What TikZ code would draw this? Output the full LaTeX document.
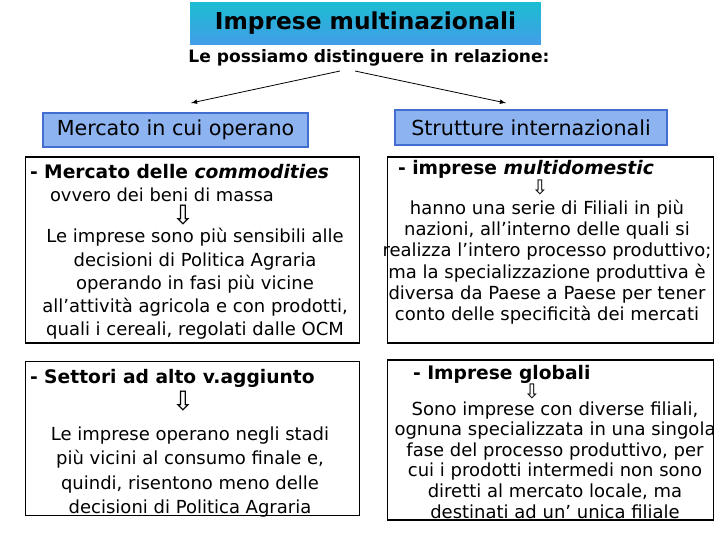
\documentclass[tikz,border=0pt]{standalone}
\usepackage{fontspec}
\setmainfont{DejaVu Sans}
\usetikzlibrary{arrows,shapes,positioning}
\definecolor{titletop}{RGB}{28,188,210}
\definecolor{titlebot}{RGB}{66,158,232}
\definecolor{catfill}{RGB}{141,180,240}
\definecolor{catline}{RGB}{66,110,210}
\tikzset{
    basic/.style  = {inner sep=0pt, outer sep=0pt},
    title box/.style = {basic, rectangle, top color=titletop, bottom color=titlebot,
        font=\fontsize{17.5}{20}\selectfont\bfseries},
    cat box/.style = {basic, rectangle, draw=catline, line width=1.2pt, fill=catfill,
        font=\fontsize{15.5}{18}\selectfont},
    info box/.style = {basic, rectangle, draw, line width=0.9pt, fill=white},
    head text/.style = {basic, anchor=west, font=\fontsize{14}{17}\selectfont\bfseries},
    body text/.style = {basic, align=center},
    down mark/.style = {basic, font=\fontsize{20}{20}\selectfont}
}

\begin{document}
\begin{tikzpicture}[x=0.75pt, y=-0.75pt, >=latex]
	\useasboundingbox (0,0) rectangle (720,540);
	% heading
	\node[title box, minimum width=263pt, minimum height=31pt] (title) at (365.5,23.5) {Imprese multinazionali};
	\node[basic, font=\fontsize{12.8}{15}\selectfont\bfseries] (sub) at (369,58) {Le possiamo distinguere in relazione:};
	\coordinate (forkL) at (340,71);
	\coordinate (forkR) at (355,71);
	\node[cat box, minimum width=199pt, minimum height=25.5pt] (merc) at (175.5,130) {Mercato in cui operano};
	\node[cat box, minimum width=204pt, minimum height=26pt] (strut) at (531,127.5) {Strutture internazionali};
	\coordinate (tipL) at (191,103);
	\coordinate (tipR) at (506,103);
	\draw[->, semithick] (forkL) -- (tipL);
	\draw[->, semithick] (forkR) -- (tipR);
	% boxes
	\node[info box, minimum width=251pt, minimum height=139.5pt] (comm) at (192.5,250) {};
	\node[info box, minimum width=244pt, minimum height=139.5pt] (multi) at (550.5,250) {};
	\node[info box, minimum width=251pt, minimum height=115pt] (valag) at (192.5,438.5) {};
	\node[info box, minimum width=244pt, minimum height=120pt] (glob) at (550.5,440) {};
	% mercato delle commodities
	\node[head text] (commHead) at (30,172) {- Mercato delle \textit{commodities}};
	\node[basic, anchor=west, font=\fontsize{13.4}{16}\selectfont] (commSub) at (50,195) {ovvero dei beni di massa};
	\node[down mark] (commDown) at (183,215) {⇩};
	\node[body text, font=\fontsize{13.5}{17.4}\selectfont] (commBody) at (195,284) {Le imprese sono più sensibili alle\\decisioni di Politica Agraria\\operando in fasi più vicine\\all’attività agricola e con prodotti,\\quali i cereali, regolati dalle OCM};
	% multidomestic
	\node[head text] (multiHead) at (398,169) {- imprese \textit{multidomestic}};
	\node[down mark, font=\fontsize{15}{15}\selectfont] (multiDown) at (540,187) {⇩};
	\node[body text, font=\fontsize{13.5}{16}\selectfont] (multiBody) at (547,262) {hanno una serie di Filiali in più\\nazioni, all’interno delle quali si\\realizza l’intero processo produttivo;\\ma la specializzazione produttiva è\\diversa da Paese a Paese per tener\\conto delle specificità dei mercati};
	% valore aggiunto
	\node[head text] (valHead) at (30,378) {- Settori ad alto v.aggiunto};
	\node[down mark] (valDown) at (183,401) {⇩};
	\node[body text, font=\fontsize{13.5}{18.2}\selectfont] (valBody) at (190,472) {Le imprese operano negli stadi\\più vicini al consumo finale e,\\quindi, risentono meno delle\\decisioni di Politica Agraria};
	% globali
	\node[head text] (globHead) at (413,374) {- Imprese globali};
	\node[down mark, font=\fontsize{15}{15}\selectfont] (globDown) at (532,391) {⇩};
	\node[body text, font=\fontsize{13.5}{15.4}\selectfont] (globBody) at (555,460) {Sono imprese con diverse filiali,\\ognuna specializzata in una singola\\fase del processo produttivo, per\\cui i prodotti intermedi non sono\\diretti al mercato locale, ma\\destinati ad un’ unica filiale};
\end{tikzpicture}
\end{document}
